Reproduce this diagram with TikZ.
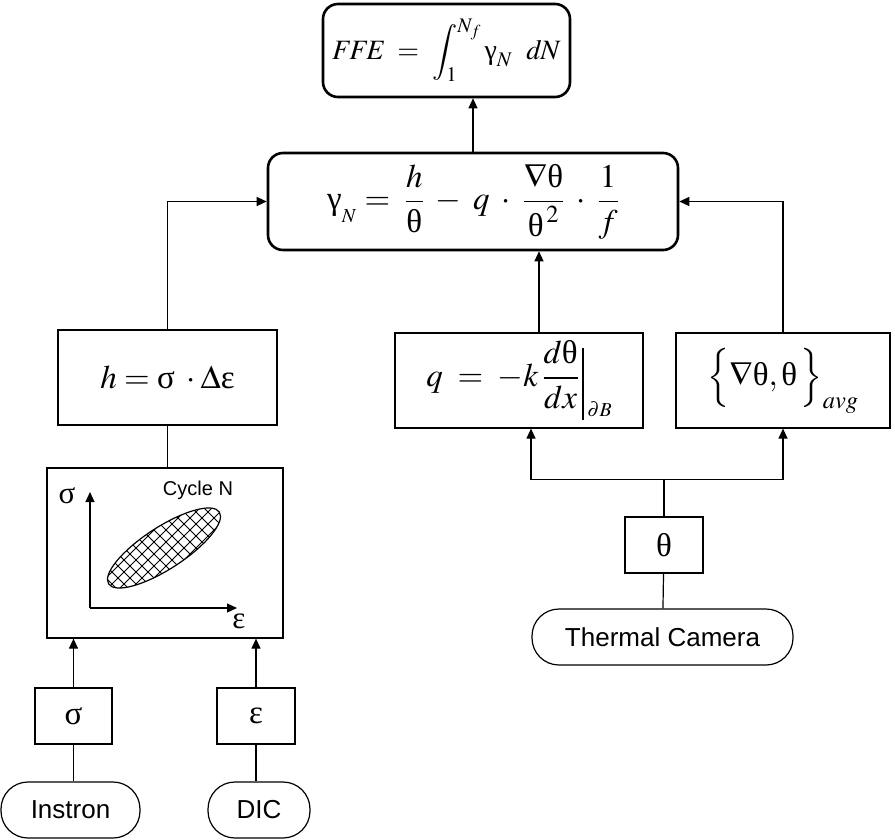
\documentclass[tikz,border=0pt]{standalone}
\usepackage{amsmath}
\usepackage{mathptmx}
\usepackage{fontspec}
\setmainfont{Liberation Serif}
\setsansfont{Liberation Sans}
\usetikzlibrary{arrows.meta, positioning}
\newcommand{\gsig}{\text{σ}}
\newcommand{\gth}{\text{θ}}
\newcommand{\geps}{\text{ε}}
\newcommand{\ggam}{\text{γ}}

\begin{document}
\begin{tikzpicture}[x=1pt, y=1pt,
  eqbox/.style={draw, line width=2.6pt, rounded corners=15pt, align=center, font=\fontsize{33}{38}\selectfont},
  mybox/.style={draw, line width=1.2pt, align=center, font=\fontsize{33}{38}\selectfont},
  srcnode/.style={draw, line width=1.2pt, rounded corners=27pt, minimum height=56pt, font=\sffamily\fontsize{26}{30}\selectfont},
  arr/.style={line width=1.2pt, -{Triangle[length=10pt, width=9pt]}},
  ln/.style={line width=1.2pt}]

  \useasboundingbox (0,0) rectangle (895,-839);

  \node[eqbox, minimum width=247pt, minimum height=93pt, inner xsep=2pt, font=\fontsize{28}{33}\selectfont] (ffe) at (446.5,-50.5) {\raisebox{-4pt}{$\mathit{FFE}\ =\ \displaystyle\int_1^{N_f}\ggam_N\ \ \mathit{dN}$}};
  \node[eqbox, minimum width=410pt, minimum height=97pt] (gam) at (473,-201.5) {$\ggam_{{}_N} =\; \dfrac{h}{\gth} \;-\; q\;\cdot\;\dfrac{\nabla\gth}{\gth^{\,2}}\;\cdot\;\dfrac{1}{f}$};

  \node[mybox, minimum width=219pt, minimum height=95pt] (hbox) at (167.5,-377.5) {$h = \gsig\;\cdot\Delta\geps$};
  \node[mybox, minimum width=248pt, minimum height=95pt] (qbox) at (519,-380.5) {$q\;=\;-k\,\dfrac{d\gth}{dx}\,\vrule width 1.2pt height 38pt depth 34pt\,\raisebox{-30pt}{$\scriptscriptstyle\partial B$}$};
  \node[mybox, minimum width=214pt, minimum height=95pt] (avg) at (783,-380.5) {$\Big\{\nabla\gth,\gth\,\Big\}_{avg}$};

  \node[mybox, minimum width=78pt, minimum height=56pt] (theta) at (664,-545) {$\gth$};
  \node[srcnode, minimum width=261pt] (camera) at (662.5,-637) {Thermal Camera};

  \node[mybox, minimum width=236pt, minimum height=170pt] (plot) at (165,-553) {};
  \node[mybox, minimum width=77pt, minimum height=56pt] (sig) at (73.5,-716) {$\gsig$};
  \node[mybox, minimum width=78pt, minimum height=56pt] (eps) at (256,-716) {$\geps$};
  \node[srcnode, minimum width=139pt] (instron) at (70.5,-810) {Instron};
  \node[srcnode, minimum width=102pt] (dic) at (259,-810) {DIC};

  \draw[arr] (gam) -- (ffe.south -| gam);
  \draw[arr] (hbox.north) |- (gam.west);
  \draw[arr] (avg.north) |- (gam.east);
  \draw[arr] ([xshift=20pt]qbox.north) -- ([xshift=20pt]qbox.north |- gam.south);

  \draw[ln] (camera) -- (theta);
  \draw[arr] (theta.north) -- ++(0,37) -| ([xshift=12pt]qbox.south);
  \draw[arr] (theta.north) -- ++(0,37) -| (avg.south);

  \draw[ln] (hbox.south) -- (hbox.south |- plot.north);
  \draw[arr] (sig) -- (sig.north |- plot.south);
  \draw[arr] (eps) -- (eps.north |- plot.south);
  \draw[ln] (sig) -- (sig.south |- instron.north);
  \draw[ln] (eps) -- (eps.south |- dic.north);

  % hysteresis loop
  \coordinate (orig) at (90,-608);
  \coordinate (ytop) at (90,-492);
  \coordinate (xend) at (237,-608);
  \draw[arr] (orig) -- (ytop);
  \draw[arr] (orig) -- (xend);
  \node[font=\fontsize{31}{36}\selectfont] (sigl) at (67,-496) {$\gsig$};
  \node[font=\fontsize{31}{36}\selectfont] (epsl) at (239,-621) {$\geps$};
  \node[font=\sffamily\fontsize{20}{24}\selectfont] (cyc) at (198,-490) {Cycle N};
  \begin{scope}
    \clip (164,-548) ellipse[x radius=66, y radius=21, rotate=33];
    \foreach \i in {-160,-148,...,160}
      {\draw[line width=0.8pt] (164+\i-100,-548-100) -- (164+\i+100,-548+100);
       \draw[line width=0.8pt] (164+\i-100,-548+100) -- (164+\i+100,-548-100);}
  \end{scope}
  \draw[line width=1.2pt] (164,-548) ellipse[x radius=66, y radius=21, rotate=33];

\end{tikzpicture}
\end{document}
